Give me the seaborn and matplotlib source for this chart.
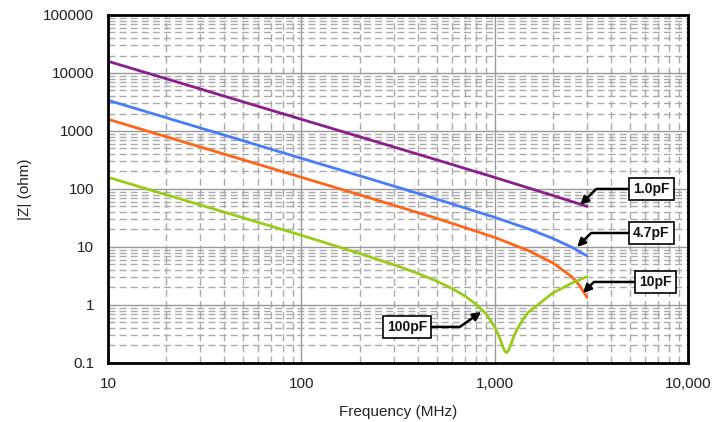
import matplotlib
matplotlib.use('Agg')
import matplotlib.pyplot as plt
from matplotlib.ticker import LogLocator, NullFormatter
import pandas as pd
import seaborn as sns

# frequencies (MHz) and |Z| (ohm)
freq_a = [10, 20, 50, 100, 200, 500, 1000, 2000, 3000]
z_1p0 = [15900, 7960, 3180, 1590, 796, 318, 158, 77, 50]

freq_b = [10, 20, 50, 100, 200, 500, 1000, 1500, 2000, 2500, 3000]
z_4p7 = [3386, 1693, 677, 338, 169, 67, 32.4, 20.4, 14.0, 9.9, 7.0]

freq_c = [10, 20, 50, 100, 200, 500, 1000, 1500, 2000, 2500, 2750, 3000]
z_10p = [1592, 796, 318, 159, 79.3, 31.2, 14.6, 8.6, 5.3, 3.07, 2.16, 1.35]

freq_d = [10, 20, 50, 100, 200, 300, 400, 500, 600, 700, 800, 900, 1000,
          1050, 1075, 1100, 1125, 1150, 1175, 1200, 1250, 1300, 1400, 1500,
          2000, 2500, 3000]
z_100p = [159, 79.6, 31.8, 15.9, 7.72, 4.94, 3.5, 2.58, 1.93, 1.43, 1.03,
          0.71, 0.42, 0.29, 0.24, 0.19, 0.162, 0.15, 0.161, 0.19, 0.275,
          0.37, 0.567, 0.76, 1.61, 2.37, 3.08]

series_names = ['1.0pF', '4.7pF', '10pF', '100pF']
series_freqs = [freq_a, freq_b, freq_c, freq_d]
series_vals = [z_1p0, z_4p7, z_10p, z_100p]
colors = ['#8a1f8c', '#4a7cf7', '#ff661a', '#99cc1a']

# label box positions (freq, ohm) and arrow targets
label_pos = [(6440, 100), (6440, 17.4), (6760, 2.49), (352, 0.418)]
arrow_to = [(2770, 53), (2670, 10), (2860, 1.61), (851, 0.757)]

rows = []
for name, fr, vals in zip(series_names, series_freqs, series_vals):
    for f, v in zip(fr, vals):
        rows.append({'Series': name, 'Freq': f, 'Z': v})
df = pd.DataFrame(rows)

sns.set_style('white')
plt.rcParams['font.family'] = ['Liberation Sans', 'DejaVu Sans']

fig = plt.figure(figsize=(7.13, 4.22), dpi=100)
ax = fig.add_axes([0.1515, 0.14, 0.8135, 0.8245])

sns.lineplot(data=df, x='Freq', y='Z', hue='Series', palette=colors,
             hue_order=series_names, linewidth=2, legend=False, ax=ax,
             estimator=None, sort=True)

ax.set_xscale('log')
ax.set_yscale('log')
ax.set_xlim(10, 10000)
ax.set_ylim(0.1, 100000)

ax.xaxis.set_minor_locator(LogLocator(base=10, subs=range(2, 10)))
ax.yaxis.set_minor_locator(LogLocator(base=10, subs=range(2, 10)))
ax.xaxis.set_minor_formatter(NullFormatter())
ax.yaxis.set_minor_formatter(NullFormatter())

ax.set_xticks([10, 100, 1000, 10000])
ax.set_xticklabels(['10', '100', '1,000', '10,000'])
ax.set_yticks([0.1, 1, 10, 100, 1000, 10000, 100000])
ax.set_yticklabels(['0.1', '1', '10', '100', '1000', '10000', '100000'])
ax.tick_params(axis='both', which='both', length=0, labelsize=11,
               labelcolor='#222222')
ax.tick_params(axis='x', pad=10)
ax.tick_params(axis='y', pad=10)

ax.grid(which='major', color='#999999', linewidth=1, linestyle='-')
ax.grid(which='minor', color='#aaaaaa', linewidth=1, linestyle=(0, (5, 3)))
ax.set_axisbelow(True)

for s in ax.spines.values():
    s.set_color('black')
    s.set_linewidth(2)

for name, pos, tgt in zip(series_names, label_pos, arrow_to):
    ang = 35 if name == '100pF' else 45
    ax.annotate(name, xy=tgt, xytext=pos, fontsize=10, fontweight='bold',
                ha='center', va='center', color='#111111',
                bbox=dict(boxstyle='square,pad=0.3', fc='white', ec='black', lw=1.2),
                arrowprops=dict(arrowstyle='-|>', color='black', lw=1.8,
                                mutation_scale=12,
                                connectionstyle=f'angle,angleA=0,angleB={ang},rad=0',
                                shrinkA=0, shrinkB=0))

ax.set_xlabel('Frequency (MHz)', fontsize=11, color='#222222', labelpad=10)
ax.set_ylabel('|Z| (ohm)', fontsize=11, color='#222222', labelpad=8)

fig.savefig('out.png', dpi=100)
